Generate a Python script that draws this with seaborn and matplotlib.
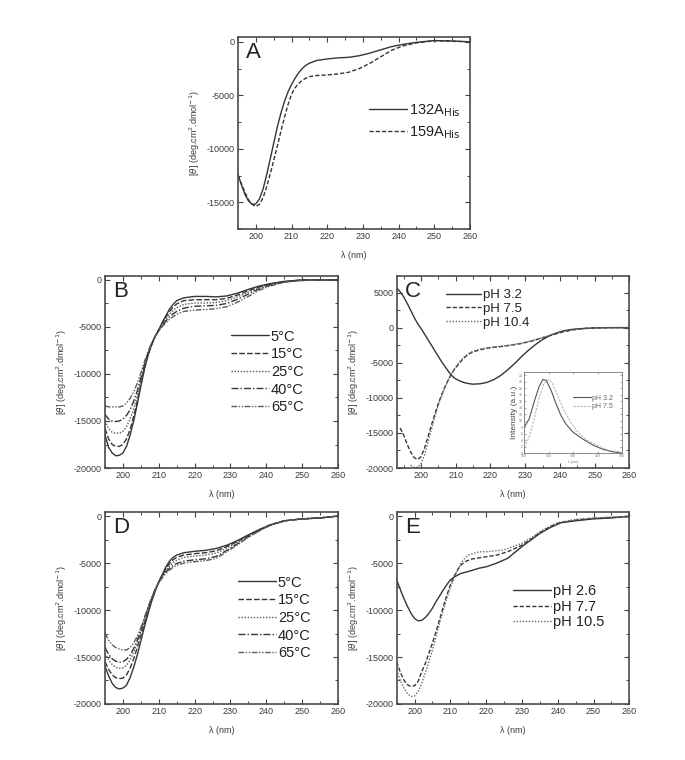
import numpy as np
import pandas as pd
import matplotlib
matplotlib.use("Agg")
import matplotlib.pyplot as plt
from matplotlib.ticker import MultipleLocator
import seaborn as sns

sns.set_theme(style="ticks")
plt.rcParams["font.family"] = ["Liberation Sans", "DejaVu Sans"]
plt.rcParams["axes.unicode_minus"] = False

# ---- panel A ----
wl_a = [195, 196, 197, 198, 199, 200, 201, 202, 203, 204, 205, 206, 207, 208, 209, 210, 211, 212,
        213, 214, 215, 217, 220, 223, 226, 229, 232, 235, 238, 241, 245, 250, 255, 260]
a_132 = [-12400, -13400, -14300, -14900, -15200, -15150, -14700, -13800, -12500, -11000, -9500, -8000,
         -6700, -5600, -4700, -4000, -3400, -2900, -2500, -2200, -2000, -1750, -1600, -1500, -1450, -1300,
         -1050, -750, -450, -250, -50, 120, 80, 0]
a_159 = [-12500, -13300, -14100, -14800, -15200, -15400, -15200, -14600, -13600, -12400, -11100, -9800,
         -8400, -7100, -5900, -4900, -4300, -3900, -3600, -3400, -3250, -3150, -3100, -3000, -2850, -2500,
         -2000, -1400, -800, -400, -100, 100, 50, 0]
labels_a = [r"132A$_{\mathrm{His}}$", r"159A$_{\mathrm{His}}$"]

# ---- panel B (temperature series) ----
wl_b = wl_a
b_5 = [-16500, -17800, -18400, -18700, -18650, -18400, -17700, -16500, -15000, -13200, -11300, -9500,
       -8000, -6900, -6000, -5300, -4500, -3800, -3100, -2600, -2200, -1900, -1750, -1750, -1800, -1700,
       -1400, -1000, -650, -400, -150, 0, 0, 0]
b_15 = [-15800, -16900, -17500, -17700, -17700, -17500, -16900, -15900, -14500, -12900, -11100, -9400,
        -8000, -6900, -6000, -5300, -4600, -3950, -3350, -2900, -2550, -2200, -2100, -2100, -2100, -1950,
        -1600, -1150, -750, -450, -170, 0, 0, 0]
b_25 = [-15000, -15800, -16200, -16300, -16300, -16100, -15600, -14800, -13700, -12300, -10700, -9200,
        -7900, -6850, -6000, -5350, -4700, -4150, -3650, -3250, -2950, -2600, -2450, -2450, -2400, -2200,
        -1800, -1300, -850, -500, -200, 0, 0, 0]
b_40 = [-14300, -14800, -15000, -15050, -15000, -14800, -14400, -13800, -12900, -11800, -10400, -9000,
        -7800, -6800, -6000, -5400, -4850, -4350, -3950, -3600, -3350, -3000, -2800, -2750, -2700, -2500,
        -2050, -1500, -950, -550, -220, -30, 0, 0]
b_65 = [-13400, -13500, -13500, -13500, -13500, -13400, -13100, -12600, -11900, -11000, -9900, -8700,
        -7600, -6700, -5950, -5400, -4950, -4550, -4200, -3900, -3650, -3350, -3200, -3150, -3050, -2850,
        -2350, -1750, -1100, -650, -250, -50, 0, 0]
labels_temp = ["5\u00b0C", "15\u00b0C", "25\u00b0C", "40\u00b0C", "65\u00b0C"]

# ---- panel C (pH series) ----
wl_c32 = [193, 194, 195, 196, 197, 198, 199, 200, 201, 202, 203, 204, 205, 206, 207, 208, 209, 210, 211,
          212, 213, 214, 215, 217, 219, 221, 223, 225, 227, 229, 231, 233, 235, 237, 239, 241, 243, 245,
          250, 255, 260]
c_32 = [5700, 5100, 4400, 3500, 2500, 1500, 600, -100, -900, -1700, -2500, -3300, -4100, -4900, -5600,
        -6300, -6900, -7300, -7550, -7750, -7900, -8000, -8050, -8000, -7800, -7400, -6800, -6000, -5100,
        -4100, -3200, -2400, -1700, -1150, -750, -450, -280, -170, -40, 0, 0]
wl_c75 = [194, 195, 196, 197, 198, 199, 200, 201, 202, 203, 204, 205, 206, 207, 208, 209, 210, 211, 212,
          213, 214, 215, 217, 220, 223, 226, 229, 232, 235, 238, 241, 244, 247, 250, 255, 260]
c_75 = [-14300, -15300, -16600, -17700, -18500, -18800, -18400, -17200, -15600, -13900, -12300, -10800,
        -9500, -8300, -7300, -6400, -5700, -5100, -4500, -4050, -3700, -3450, -3150, -2850, -2700, -2500,
        -2250, -1900, -1450, -1000, -600, -300, -120, -30, 0, 0]
wl_c104 = [197, 198, 199, 200, 201, 202, 203, 204, 205, 206, 207, 208, 209, 210, 211, 212, 213, 214,
           215, 217, 220, 223, 226, 229, 232, 235, 238, 241, 244, 247, 250, 255, 260]
c_104 = [-19600, -19900, -19900, -19400, -18200, -16400, -14500, -12700, -11100, -9700, -8400, -7300,
         -6400, -5600, -4950, -4400, -3950, -3600, -3350, -3050, -2800, -2650, -2450, -2200, -1850, -1400,
         -950, -550, -280, -100, -20, 0, 0]
labels_c = ["pH 3.2", "pH 7.5", "pH 10.4"]

# ---- inset (fluorescence) ----
em_32 = [300, 310, 320, 330, 338, 345, 355, 365, 375, 385, 400, 420, 440, 460, 480, 500]
fl_32 = [8.0, 10.5, 15.7, 20.4, 22.7, 22.4, 19.3, 15.2, 11.6, 9.0, 6.4, 4.3, 2.5, 1.2, 0.4, 0.0]
em_75 = [300, 310, 320, 330, 340, 350, 358, 368, 380, 395, 410, 430, 450, 470, 500]
fl_75 = [1.8, 4.9, 10.5, 16.8, 21.4, 22.7, 21.4, 17.8, 13.6, 9.5, 6.4, 3.8, 2.3, 1.0, 0.2]
labels_inset = ["pH 3.2", "pH 7.5"]

# ---- panel D (temperature series) ----
wl_d = wl_a
d_5 = [-16000, -17000, -17800, -18250, -18400, -18300, -18000, -17200, -16100, -14800, -13300, -11800,
       -10400, -9100, -8000, -7000, -6200, -5400, -4800, -4400, -4150, -3900, -3750, -3650, -3450, -3100,
       -2600, -2000, -1450, -950, -500, -300, -200, 0]
d_15 = [-15500, -16300, -16900, -17200, -17300, -17250, -16900, -16200, -15200, -14000, -12700, -11400,
        -10100, -8900, -7900, -7000, -6300, -5600, -5050, -4650, -4400, -4150, -4000, -3900, -3700, -3250,
        -2700, -2050, -1450, -950, -500, -300, -200, 0]
d_25 = [-14600, -15300, -15800, -16100, -16200, -16150, -15900, -15300, -14500, -13500, -12300, -11100,
        -9900, -8800, -7800, -7000, -6350, -5800, -5300, -4950, -4700, -4400, -4250, -4150, -3950, -3400,
        -2800, -2100, -1500, -950, -500, -300, -200, 0]
d_40 = [-14000, -14700, -15200, -15450, -15550, -15500, -15250, -14800, -14100, -13200, -12100, -10900,
        -9800, -8700, -7800, -7050, -6450, -5950, -5550, -5250, -5050, -4800, -4650, -4550, -4300, -3650,
        -2950, -2200, -1550, -1000, -520, -300, -200, 0]
d_65 = [-12500, -13200, -13700, -14000, -14150, -14250, -14250, -14000, -13500, -12800, -11900, -10800,
        -9700, -8700, -7800, -7100, -6550, -6100, -5750, -5450, -5250, -5000, -4850, -4750, -4500, -3800,
        -3050, -2250, -1600, -1000, -520, -300, -200, 0]

# ---- panel E (pH series) ----
wl_e26 = [195, 196, 197, 198, 199, 200, 201, 202, 203, 204, 205, 206, 207, 208, 209, 210, 211, 212, 213,
          215, 218, 220, 223, 226, 230, 233, 235, 238, 241, 245, 250, 255, 260]
e_26 = [-6800, -7800, -8760, -9600, -10350, -10900, -11150, -11100, -10800, -10350, -9800, -9100, -8500,
        -7870, -7300, -6800, -6500, -6300, -6100, -5900, -5550, -5400, -5000, -4500, -3250, -2400, -1850,
        -1200, -700, -500, -300, -200, 0]
wl_e77 = [195, 196, 197, 198, 199, 200, 201, 202, 203, 204, 205, 206, 207, 208, 209, 210, 211, 212, 213,
          214, 216, 218, 220, 223, 226, 230, 233, 235, 238, 240, 245, 250, 255, 260]
e_77 = [-15500, -16600, -17450, -17950, -18150, -18050, -17600, -16550, -15700, -14600, -13500, -12300,
        -11000, -9650, -8450, -7350, -6450, -5750, -5200, -4860, -4570, -4450, -4330, -4150, -3800, -3100,
        -2350, -1770, -1100, -780, -430, -250, -150, -70]
wl_e105 = [195, 196, 197, 198, 199, 200, 201, 202, 203, 204, 205, 206, 207, 208, 209, 210, 211, 212, 213,
           214, 215, 218, 220, 225, 230, 233, 235, 238, 240, 245, 250, 255, 260]
e_105 = [-16400, -17500, -18300, -18900, -19200, -19150, -18700, -17800, -16700, -15500, -14250, -12800,
         -11400, -10050, -8760, -7600, -6630, -5750, -5000, -4500, -4150, -3800, -3800, -3600, -2900, -2200,
         -1650, -1050, -700, -350, -200, -100, -50]
labels_e = ["pH 2.6", "pH 7.7", "pH 10.5"]

DARK = "#353535"
MID = "#5a5a5a"
TXT = "#3a3a3a"
styles_temp = ["-", (0, (4, 1.6)), (0, (1, 1.2)), (0, (5, 1.5, 1, 1.5)), (0, (4, 1.2, 1, 1.2, 1, 1.2))]
colors_temp = [DARK, DARK, MID, DARK, MID]
styles_ph = ["-", (0, (3, 1.5)), (0, (1, 1.2))]
colors_ph = [DARK, DARK, "#6a6a6a"]

fig = plt.figure(figsize=(6.85, 7.6), dpi=100)


def style_axes(ax, xlim, ylim, ymajor, letter):
    ax.set_xlim(*xlim)
    ax.set_ylim(*ylim)
    ax.xaxis.set_major_locator(MultipleLocator(10))
    ax.xaxis.set_minor_locator(MultipleLocator(5))
    ax.yaxis.set_major_locator(MultipleLocator(ymajor))
    ax.yaxis.set_minor_locator(MultipleLocator(ymajor / 2))
    ax.tick_params(which="both", direction="in", top=True, right=True, color="#444444",
                   labelsize=6.5, labelcolor=TXT, pad=2.5)
    ax.tick_params(which="major", length=3.5, width=0.8)
    ax.tick_params(which="minor", length=2, width=0.7)
    for sp in ax.spines.values():
        sp.set_color("#4a4a4a")
        sp.set_linewidth(1.2)
    ax.set_xlabel("\u03bb (nm)", fontsize=6.5, color=TXT, labelpad=7)
    ax.set_ylabel(r"[$\theta$] (deg.cm$^2$.dmol$^{-1}$)", fontsize=6.5, color=TXT, labelpad=3)
    ax.grid(False)
    ax.text(0.035, 0.975, letter, transform=ax.transAxes, fontsize=16, va="top", ha="left",
            color="#222222")


def draw(ax, xs, ys, labels, styles, colors):
    for x, y, lab, ls, c in zip(xs, ys, labels, styles, colors):
        df = pd.DataFrame({"wl": x, "val": y})
        sns.lineplot(data=df, x="wl", y="val", ax=ax, color=c, linestyle=ls, linewidth=1.0,
                     label=lab, sort=False, estimator=None)


def legend(ax, anchor, spacing=0.25):
    ax.legend(loc="upper left", bbox_to_anchor=anchor, frameon=False, fontsize=10.5,
              handlelength=2.6, handletextpad=0.15, labelspacing=spacing, borderpad=0,
              borderaxespad=0, labelcolor="#222222")


# panel A
ax_a = fig.add_axes([0.3474, 0.6987, 0.3387, 0.2526])
draw(ax_a, [wl_a, wl_a], [a_132, a_159], labels_a, ["-", (0, (3, 1.5))], [DARK, DARK])
style_axes(ax_a, (195, 260), (-17500, 450), 5000, "A")
legend(ax_a, (0.565, 0.66), spacing=0.35)

# panel B
ax_b = fig.add_axes([0.1533, 0.3842, 0.340, 0.2530])
draw(ax_b, [wl_b] * 5, [b_5, b_15, b_25, b_40, b_65], labels_temp, styles_temp, colors_temp)
style_axes(ax_b, (195, 260), (-20000, 450), 5000, "B")
legend(ax_b, (0.54, 0.72))

# panel C
ax_c = fig.add_axes([0.5791, 0.3842, 0.3396, 0.2530])
draw(ax_c, [wl_c32, wl_c75, wl_c104], [c_32, c_75, c_104], labels_c, styles_ph, colors_ph)
style_axes(ax_c, (193, 260), (-20000, 7400), 5000, "C")
ax_c.legend(loc="upper left", bbox_to_anchor=(0.21, 0.93), frameon=False, fontsize=9.5,
            handlelength=2.7, handletextpad=0.15, labelspacing=0.1, borderpad=0,
            borderaxespad=0, labelcolor="#222222")

# inset in C
ax_in = fig.add_axes([0.7654, 0.4039, 0.1426, 0.1066])
for x, y, lab, ls, c in zip([em_32, em_75], [fl_32, fl_75], labels_inset,
                            ["-", (0, (2, 1.2))], ["#555555", "#b5b5b5"]):
    sns.lineplot(x=x, y=y, ax=ax_in, color=c, linestyle=ls, linewidth=0.8, label=lab,
                 sort=False, estimator=None)
ax_in.set_xlim(300, 500)
ax_in.set_ylim(0, 25)
ax_in.xaxis.set_major_locator(MultipleLocator(50))
ax_in.yaxis.set_major_locator(MultipleLocator(2))
ax_in.tick_params(which="both", direction="in", top=True, right=True, labelsize=2.5,
                  labelcolor="#777777", length=1.5, width=0.4, pad=1, color="#666666")
for sp in ax_in.spines.values():
    sp.set_color("#777777")
    sp.set_linewidth(0.6)
ax_in.set_xlabel("\u03bb (nm)", fontsize=2.5, color="#777777", labelpad=1)
ax_in.set_ylabel("Intensity (a.u.)", fontsize=6, color="#444444", labelpad=1)
ax_in.grid(False)
ax_in.legend(loc="upper left", bbox_to_anchor=(0.5, 0.72), frameon=False, fontsize=5,
             handlelength=2.6, handletextpad=0.1, labelspacing=0.2, borderpad=0,
             borderaxespad=0, labelcolor="#666666")

# panel D
ax_d = fig.add_axes([0.1533, 0.0737, 0.340, 0.2522])
draw(ax_d, [wl_d] * 5, [d_5, d_15, d_25, d_40, d_65], labels_temp, styles_temp, colors_temp)
style_axes(ax_d, (195, 260), (-20000, 400), 5000, "D")
legend(ax_d, (0.57, 0.67))

# panel E
ax_e = fig.add_axes([0.5791, 0.0737, 0.3396, 0.2522])
draw(ax_e, [wl_e26, wl_e77, wl_e105], [e_26, e_77, e_105], labels_e, styles_ph, colors_ph)
style_axes(ax_e, (195, 260), (-20000, 400), 5000, "E")
legend(ax_e, (0.50, 0.625), spacing=0.1)

fig.savefig("out.png", dpi=100, facecolor="white")
